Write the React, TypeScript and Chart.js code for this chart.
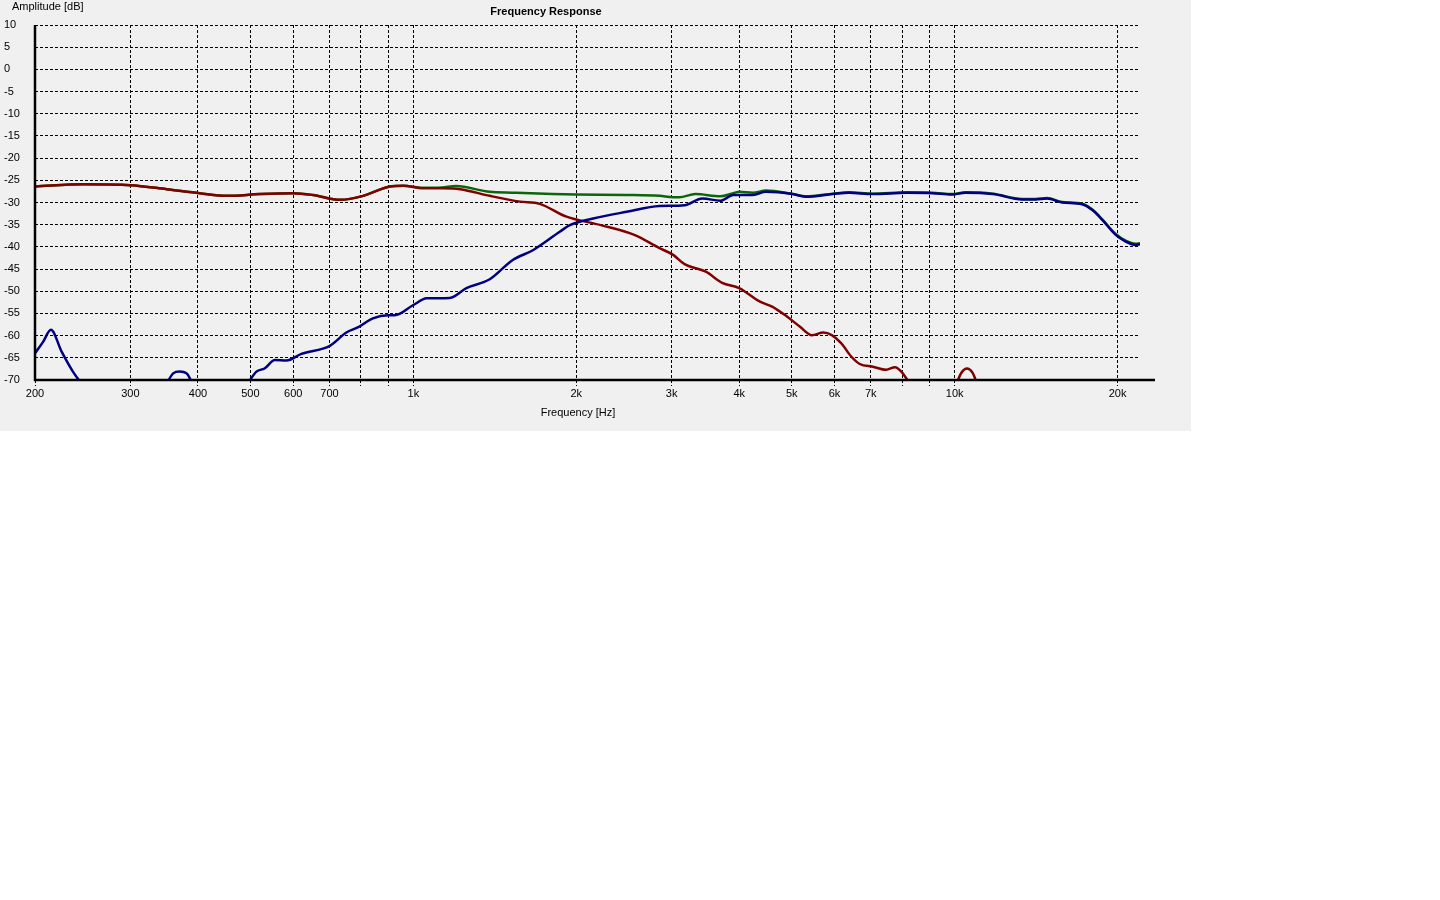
import React, { useEffect, useRef } from "react";
import { Chart, registerables } from "chart.js";

Chart.register(...registerables);

// ---------- data ----------
const wooferFreq = [200, 246, 300, 350, 403, 452, 521, 600, 652, 733, 808, 904, 958, 1042, 1130, 1220, 1384, 1574, 1712, 1918, 2220, 2560, 2850, 3020, 3170, 3470, 3720, 4000, 4360, 4610, 4900, 5180, 5450, 5720, 5930, 6170, 6440, 6680, 7060, 7470, 7760, 7970, 8380, 9000, 10000, 10300, 10540, 10780, 11080];
const wooferDb: (number | null)[] = [-26.4, -25.9, -26.1, -27, -27.9, -28.5, -28.1, -27.9, -28.3, -29.4, -28.5, -26.4, -26.2, -26.8, -26.8, -27, -28.5, -29.8, -30.3, -33.2, -35.1, -37.3, -40.3, -41.8, -43.9, -45.6, -48.1, -49.3, -52.3, -53.5, -55.7, -58, -59.9, -59.3, -59.9, -61.7, -64.7, -66.4, -67, -67.7, -67.1, -68.1, -72, null, -71.8, -68.3, -67.4, -68.3, -71.8];

const tweeterFreq = [200, 207, 214, 224, 235, 248, 300, 347, 360, 370, 381, 394, 440, 490, 513, 531, 555, 583, 621, 701, 752, 791, 842, 898, 924, 1000, 1058, 1168, 1253, 1384, 1524, 1666, 1864, 1946, 2149, 2478, 2850, 3170, 3420, 3692, 3901, 4240, 4480, 5020, 5300, 5960, 6380, 7060, 8150, 9100, 9880, 10480, 11760, 13330, 14100, 14820, 15800, 17200, 17960, 18740, 19840, 20700, 21600, 22000];
const tweeterDb: (number | null)[] = [-64, -61.4, -58.7, -63.6, -68.1, -72, null, -71.8, -68.5, -68.1, -68.5, -71.8, null, -71.5, -68.1, -67.4, -65.5, -65.6, -64.1, -62.3, -59.3, -58.1, -56.1, -55.4, -55.4, -53.1, -51.6, -51.5, -49.3, -47.3, -43, -40.7, -36.6, -35.1, -33.6, -32.1, -30.8, -30.6, -29.1, -29.6, -28.3, -28.3, -27.6, -28.1, -28.7, -28.1, -27.8, -28.1, -27.8, -27.9, -28.2, -27.8, -28.1, -29.3, -29.3, -29.1, -30, -30.4, -31.7, -33.9, -37.3, -38.8, -39.6, -39.4];

const sumFreq = [200, 246, 300, 350, 403, 452, 521, 600, 652, 733, 808, 904, 958, 1042, 1130, 1198, 1384, 1524, 1808, 2000, 2478, 2850, 3020, 3100, 3320, 3692, 3900, 4000, 4240, 4480, 5020, 5300, 5960, 6380, 7060, 8150, 9100, 9880, 10480, 11760, 13330, 14100, 14820, 15800, 17200, 17960, 18740, 19840, 20700, 21600, 22000];
const sumDb: (number | null)[] = [-26.4, -25.9, -26.1, -27, -27.9, -28.5, -28.1, -27.9, -28.3, -29.4, -28.5, -26.4, -26.2, -26.7, -26.6, -26.3, -27.6, -27.8, -28.1, -28.2, -28.3, -28.5, -28.8, -28.8, -28.1, -28.6, -27.9, -27.6, -27.8, -27.3, -28.1, -28.6, -28.0, -27.7, -28.0, -27.7, -27.8, -28.1, -27.7, -28.0, -29.2, -29.2, -29.0, -29.9, -30.3, -31.6, -33.8, -37.1, -38.6, -39.3, -39.2];

const xTickValues = [200, 300, 400, 500, 600, 700, 800, 900, 1000, 2000, 3000, 4000, 5000, 6000, 7000, 8000, 9000, 10000, 20000];
const xTickLabels = ["200", "300", "400", "500", "600", "700", "", "", "1k", "2k", "3k", "4k", "5k", "6k", "7k", "", "", "10k", "20k"];
const yTickValues = [-70, -65, -60, -55, -50, -45, -40, -35, -30, -25, -20, -15, -10, -5, 0, 5, 10];

const chartTitle = "Frequency Response";
const yAxisTitle = "Amplitude [dB]";
const xAxisTitle = "Frequency [Hz]";

// ---------- styles ----------
const FONT = "'Liberation Sans', Arial, sans-serif";
const RED = "#800000";
const BLUE = "#000080";
const GREEN = "#0b660b";
const DASH = [3, 2];

function toPoints(freq: number[], db: (number | null)[]) {
  return freq.map((f, i) => ({ x: f, y: db[i] }));
}

const decorPlugin = {
  id: "decor",
  afterDatasetsDraw(chart: any) {
    const { ctx, chartArea } = chart;
    const { left, right, top, bottom } = chartArea;
    ctx.save();
    ctx.setLineDash([]);
    ctx.strokeStyle = "#000";
    ctx.lineWidth = 2.5;
    ctx.beginPath();
    ctx.moveTo(left, top);
    ctx.lineTo(left, bottom + 1.25);
    ctx.moveTo(left - 1.25, bottom);
    ctx.lineTo(right + 15, bottom);
    ctx.stroke();
    ctx.restore();
  },
  afterDraw(chart: any) {
    const { ctx } = chart;
    ctx.save();
    ctx.fillStyle = "#000";
    ctx.textBaseline = "middle";
    ctx.font = `11px ${FONT}`;
    ctx.textAlign = "left";
    ctx.fillText(yAxisTitle, 12, 7);
    ctx.textAlign = "center";
    ctx.fillText(xAxisTitle, 578, 413);
    ctx.font = `bold 11px ${FONT}`;
    ctx.fillText(chartTitle, 546, 12);
    ctx.restore();
  },
};

export default function App() {
  const canvasRef = useRef<HTMLCanvasElement | null>(null);

  useEffect(() => {
    if (!canvasRef.current) return;
    const lineDs = (label: string, data: any, color: string, order: number) => ({
      label,
      data,
      borderColor: color,
      backgroundColor: color,
      borderWidth: 2.5,
      pointRadius: 0,
      fill: false,
      spanGaps: false,
      cubicInterpolationMode: "monotone" as const,
      order,
    });
    const chart = new Chart(canvasRef.current, {
      type: "line",
      data: {
        datasets: [
          lineDs("Sum", toPoints(sumFreq, sumDb), GREEN, 3),
          lineDs("Woofer", toPoints(wooferFreq, wooferDb), RED, 2),
          lineDs("Tweeter", toPoints(tweeterFreq, tweeterDb), BLUE, 1),
        ],
      },
      options: {
        responsive: false,
        animation: false,
        devicePixelRatio: 1,
        layout: { padding: { left: 4, top: 25, right: 51, bottom: 0 } },
        plugins: {
          legend: { display: false },
          tooltip: { enabled: false },
          title: { display: false },
        },
        scales: {
          x: {
            type: "logarithmic",
            min: 200,
            max: 22000,
            afterBuildTicks: (s: any) => {
              s.ticks = xTickValues.map((v) => ({ value: v }));
            },
            afterFit: (s: any) => {
              s.height = 51;
            },
            ticks: {
              autoSkip: false,
              maxRotation: 0,
              minRotation: 0,
              padding: 1,
              color: "#000",
              font: { family: FONT, size: 11 },
              callback: (v: any) => {
                const i = xTickValues.indexOf(Number(v));
                return i >= 0 ? xTickLabels[i] : "";
              },
            },
            grid: {
              color: "#000",
              lineWidth: 1,
              drawTicks: true,
              tickLength: 6,
              tickColor: "#000",
              tickBorderDash: DASH,
            },
            border: { display: false, dash: DASH },
          },
          y: {
            type: "linear",
            min: -70,
            max: 10,
            afterBuildTicks: (s: any) => {
              s.ticks = yTickValues.map((v) => ({ value: v }));
            },
            afterFit: (s: any) => {
              s.width = 31;
            },
            ticks: {
              crossAlign: "far",
              padding: 0,
              color: "#000",
              font: { family: FONT, size: 11 },
              callback: (v: any) => String(v),
            },
            grid: { color: "#000", lineWidth: 1, drawTicks: false, tickLength: 0 },
            border: { display: false, dash: DASH },
          },
        },
      },
      plugins: [decorPlugin],
    } as any);
    return () => chart.destroy();
  }, []);

  return (
    <div
      style={{
        position: "absolute",
        left: 0,
        top: 0,
        width: 1191,
        height: 431,
        background: "#f0f0f0",
      }}
    >
      <canvas ref={canvasRef} width={1191} height={431} style={{ display: "block" }} />
    </div>
  );
}
